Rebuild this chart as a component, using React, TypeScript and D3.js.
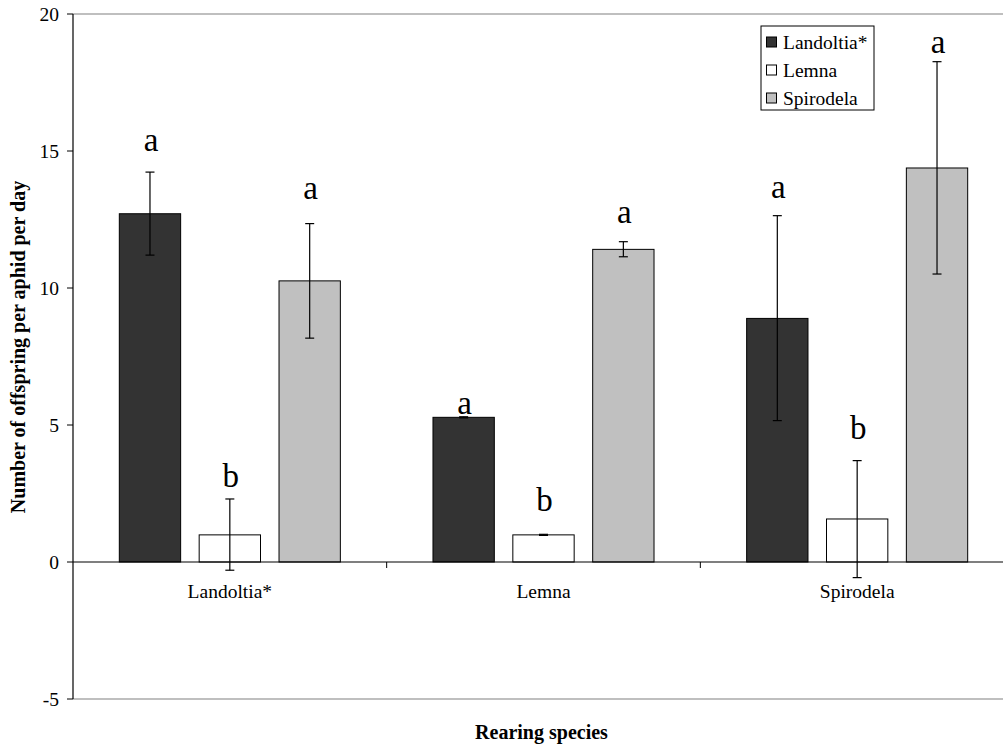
import React, { useEffect, useRef } from 'react';
import * as d3 from 'd3';

// data
const categories = ['Landoltia*', 'Lemna', 'Spirodela'];
const series = ['Landoltia*', 'Lemna', 'Spirodela'];
const seriesColors = ['#333333', '#ffffff', '#c0c0c0'];

// mean offspring per aphid per day, rows = rearing species, cols = series
const means = [
    [12.71, 0.99, 10.26],
    [5.28, 0.99, 11.41],
    [8.89, 1.57, 14.38],
];
const errLow = [
    [11.2, -0.3, 8.17],
    [5.26, 0.97, 11.14],
    [5.16, -0.57, 10.51],
];
const errHigh = [
    [14.23, 2.3, 12.35],
    [5.30, 1.01, 11.69],
    [12.64, 3.7, 18.26],
];
// significance letters and their baseline height (data units)
const letters = [
    ['a', 'b', 'a'],
    ['a', 'b', 'a'],
    ['a', 'b', 'a'],
];
const letterY = [
    [15.0, 2.75, 13.25],
    [5.39, 1.86, 12.36],
    [13.27, 4.49, 18.56],
];
const yTicks = [-5, 0, 5, 10, 15, 20];

const W = 1003, H = 748;
const margin = { top: 14, left: 73, right: 1014, bottom: 699 };
const font = '"Liberation Serif", "Times New Roman", serif';

const draw = (node: SVGSVGElement) => {
    const svg = d3.select(node);
    svg.selectAll('*').remove();

    const y = d3.scaleLinear().domain([-5, 20]).range([margin.bottom, margin.top]);
    const x0 = d3.scaleBand().domain(categories).range([margin.left, margin.right]).padding(0);
    const x1 = d3.scaleBand().domain(series).range([0, x0.bandwidth()])
        .paddingInner(0.232).paddingOuter(0.58);

    // plot area border (grey top / bottom)
    svg.append('line').attr('x1', margin.left).attr('x2', margin.right)
        .attr('y1', margin.top).attr('y2', margin.top).attr('stroke', '#808080').attr('stroke-width', 1.2);
    svg.append('line').attr('x1', margin.left).attr('x2', margin.right)
        .attr('y1', margin.bottom).attr('y2', margin.bottom).attr('stroke', '#808080').attr('stroke-width', 1.2);

    // y axis
    svg.append('line').attr('x1', margin.left).attr('x2', margin.left)
        .attr('y1', margin.top).attr('y2', margin.bottom).attr('stroke', '#000').attr('stroke-width', 1.2);
    yTicks.forEach(t => {
        svg.append('line').attr('x1', margin.left - 6).attr('x2', margin.left)
            .attr('y1', y(t)).attr('y2', y(t)).attr('stroke', '#000');
        svg.append('text').attr('x', 59).attr('y', y(t) + 6.5)
            .attr('text-anchor', 'end').attr('font-family', font).attr('font-size', 19.5)
            .text(t);
    });

    // bars
    categories.forEach((c, i) => {
        series.forEach((s, j) => {
            const bx = x0(c)! + x1(s)!;
            const v = means[i][j];
            svg.append('rect')
                .attr('x', bx).attr('y', y(v))
                .attr('width', x1.bandwidth()).attr('height', y(0) - y(v))
                .attr('fill', seriesColors[j]).attr('stroke', '#000').attr('stroke-width', 1);
        });
    });

    // x axis at zero
    svg.append('line').attr('x1', margin.left).attr('x2', margin.right)
        .attr('y1', y(0)).attr('y2', y(0)).attr('stroke', '#000').attr('stroke-width', 1.2);
    categories.forEach((c, i) => {
        if (i > 0) {
            svg.append('line').attr('x1', x0(c)!).attr('x2', x0(c)!)
                .attr('y1', y(0)).attr('y2', y(0) + 6).attr('stroke', '#000');
        }
        svg.append('text').attr('x', x0(c)! + x0.bandwidth() / 2).attr('y', y(0) + 36)
            .attr('text-anchor', 'middle').attr('font-family', font).attr('font-size', 19.5)
            .text(c);
    });

    // error bars + letters
    categories.forEach((c, i) => {
        series.forEach((s, j) => {
            const cx = x0(c)! + x1(s)! + x1.bandwidth() / 2;
            const lo = y(errLow[i][j]), hi = y(errHigh[i][j]);
            svg.append('line').attr('x1', cx).attr('x2', cx).attr('y1', lo).attr('y2', hi)
                .attr('stroke', '#000').attr('stroke-width', 1.2);
            [lo, hi].forEach(py => {
                svg.append('line').attr('x1', cx - 4.5).attr('x2', cx + 4.5)
                    .attr('y1', py).attr('y2', py).attr('stroke', '#000').attr('stroke-width', 1.2);
            });
            svg.append('text').attr('x', cx + 1).attr('y', y(letterY[i][j]))
                .attr('text-anchor', 'middle').attr('font-family', font).attr('font-size', 33)
                .text(letters[i][j]);
        });
    });

    // legend
    const lg = svg.append('g');
    lg.append('rect').attr('x', 761).attr('y', 26).attr('width', 113).attr('height', 84)
        .attr('fill', '#fff').attr('stroke', '#000').attr('stroke-width', 1);
    series.forEach((s, j) => {
        const cy = 42 + j * 28;
        lg.append('rect').attr('x', 766.5).attr('y', cy - 5).attr('width', 10).attr('height', 10)
            .attr('fill', seriesColors[j]).attr('stroke', '#000').attr('stroke-width', 1);
        lg.append('text').attr('x', 783).attr('y', cy + 6.5)
            .attr('font-family', font).attr('font-size', 19.5).text(s);
    });

    // axis titles
    svg.append('text').attr('x', (margin.left + margin.right) / 2 - 2).attr('y', 739)
        .attr('text-anchor', 'middle').attr('font-family', font).attr('font-size', 20)
        .attr('font-weight', 'bold').text('Rearing species');
    svg.append('text').attr('transform', 'translate(25,347) rotate(-90)')
        .attr('text-anchor', 'middle').attr('font-family', font).attr('font-size', 20)
        .attr('font-weight', 'bold').text('Number of offspring per aphid per day');
};

const App = () => {
    const ref = useRef<SVGSVGElement>(null);
    useEffect(() => {
        if (ref.current) draw(ref.current);
    }, []);
    return (
        <div style={{ position: 'absolute', left: 0, top: 0 }}>
            <svg ref={ref} width={W} height={H} style={{ display: 'block', background: '#fff' }} />
        </div>
    );
};

export default App;
